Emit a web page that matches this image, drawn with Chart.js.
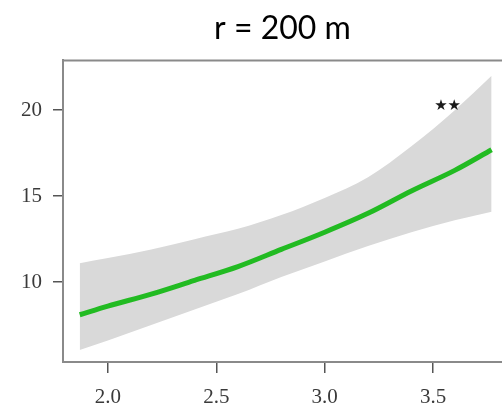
<!DOCTYPE html>
<html>
<head>
<meta charset="utf-8">
<script src="https://cdn.jsdelivr.net/npm/chart.js@4.4.0/dist/chart.umd.min.js"></script>
<style>
    html, body { margin: 0; padding: 0; background: white; }
    #box { width: 502px; height: 412px; position: relative; }
</style>
</head>
<body>
<div id="box"><canvas id="Plot"></canvas></div>
<script>
var xs = [1.87, 2.0, 2.2, 2.4, 2.6, 2.8, 3.0, 3.2, 3.4, 3.6, 3.77]
var fitLine = [8.1, 8.6, 9.3, 10.1, 10.9, 11.9, 12.9, 14.0, 15.3, 16.5, 17.7]
var upperBand = [11.1, 11.4, 11.9, 12.5, 13.1, 13.9, 14.9, 16.1, 17.9, 20.0, 22.0]
var lowerBand = [6.05, 6.6, 7.5, 8.4, 9.3, 10.3, 11.2, 12.1, 12.9, 13.6, 14.1]
var xTicks = [2.0, 2.5, 3.0, 3.5]
var yTicks = [10, 15, 20]
var xRange = [1.793, 3.818]
var yRange = [5.35, 22.9]
var starPos = [3.567, 20.25]
var starText = "★★"
var titleText = "r = 200 m"

function toPoints(ys) {
    var pts = []
    for (var i = 0; i < xs.length; i++) {
        pts.push({ x: xs[i], y: ys[i] })
    }
    return pts
}

// top frame line and the significance stars
var extras = {
    id: 'extras',
    afterDatasetsDraw: (chart) => {
        var ctx = chart.ctx
        var a = chart.chartArea
        ctx.save()
        ctx.strokeStyle = '#8a8a8a'
        ctx.lineWidth = 2
        ctx.beginPath()
        ctx.moveTo(a.left, a.top)
        ctx.lineTo(a.right, a.top)
        ctx.stroke()

        var sx = chart.scales.x.getPixelForValue(starPos[0])
        var sy = chart.scales.y.getPixelForValue(starPos[1])
        ctx.fillStyle = '#1a1a1a'
        ctx.font = '15px "DejaVu Sans"'
        ctx.textAlign = 'center'
        ctx.textBaseline = 'middle'
        ctx.fillText(starText, sx, sy)
        ctx.restore()
    }
}

var ctx = document.getElementById('Plot').getContext('2d')
var myChart = new Chart(ctx, {
    type: 'line',
    data: {
        datasets: [{
            data: toPoints(fitLine),
            borderColor: '#22bb22',
            borderWidth: 5,
            pointRadius: 0,
            cubicInterpolationMode: 'monotone',
            fill: false,
            order: 0
        }, {
            data: toPoints(upperBand),
            borderWidth: 0,
            borderColor: 'rgba(0,0,0,0)',
            backgroundColor: '#d9d9d9',
            pointRadius: 0,
            cubicInterpolationMode: 'monotone',
            fill: '+1',
            order: 1
        }, {
            data: toPoints(lowerBand),
            borderWidth: 0,
            borderColor: 'rgba(0,0,0,0)',
            pointRadius: 0,
            cubicInterpolationMode: 'monotone',
            fill: false,
            order: 1
        }]
    },
    options: {
        responsive: true,
        maintainAspectRatio: false,
        animation: false,
        layout: { padding: { left: 0, right: 0, top: 0, bottom: 0 } },
        plugins: {
            legend: { display: false },
            tooltip: { enabled: false },
            title: {
                display: true,
                text: titleText,
                fullSize: false,
                color: '#000',
                font: { family: 'Lato', size: 32, weight: 'normal' },
                padding: { top: 9, bottom: 13 }
            }
        },
        scales: {
            x: {
                type: 'linear',
                min: xRange[0],
                max: xRange[1],
                afterBuildTicks: (scale) => {
                    scale.ticks = xTicks.map(v => ({ value: v }))
                },
                afterFit: (scale) => { scale.height = 50 },
                grid: { drawOnChartArea: false, drawTicks: true, tickLength: 11, color: '#555', lineWidth: 1.5 },
                border: { display: true, color: '#8a8a8a', width: 2 },
                ticks: {
                    color: '#3a3a3a',
                    font: { family: 'Liberation Serif', size: 21 },
                    padding: 12,
                    maxRotation: 0,
                    callback: (v) => v.toFixed(1)
                }
            },
            y: {
                type: 'linear',
                min: yRange[0],
                max: yRange[1],
                afterBuildTicks: (scale) => {
                    scale.ticks = yTicks.map(v => ({ value: v }))
                },
                afterFit: (scale) => { scale.width = 63 },
                grid: { drawOnChartArea: false, drawTicks: true, tickLength: 10, color: '#555', lineWidth: 1.5 },
                border: { display: true, color: '#8a8a8a', width: 2 },
                ticks: {
                    color: '#3a3a3a',
                    font: { family: 'Liberation Serif', size: 21 },
                    padding: 11
                }
            }
        }
    },
    plugins: [extras]
})
</script>
</body>
</html>
